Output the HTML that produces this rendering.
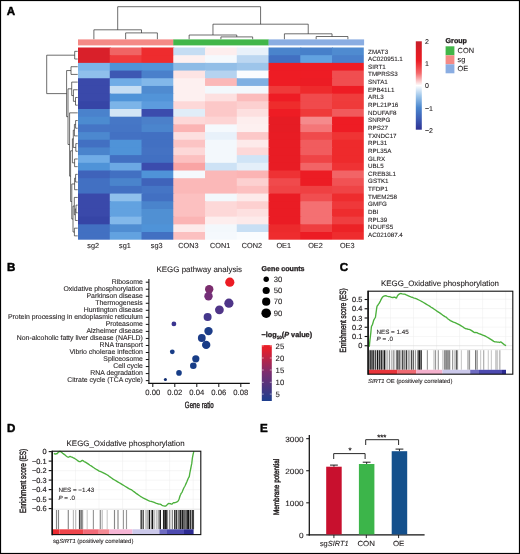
<!DOCTYPE html>
<html lang="en"><head><meta charset="utf-8"><title>Figure</title>
<style>
html,body{margin:0;padding:0;background:#fff;}
svg{display:block;font-family:'Liberation Sans', Arial, Helvetica, sans-serif;opacity:0.999;will-change:transform;text-rendering:geometricPrecision;}
text{stroke:#231f20;stroke-width:.1px;}
text[font-weight=bold]{stroke-width:.3px;}
text.cond{stroke-width:.42px;}
text.ast{stroke-width:.22px;}
text.tk{stroke-width:.18px;}
text.pl{stroke-width:.45px;fill:#000;stroke:#000;}
</style></head><body>
<svg width="520" height="554" viewBox="0 0 520 554">
<rect width="520" height="554" fill="#fff"/>
<g id="panelA">
<g>
<rect x="78.00" y="39.40" width="95.57" height="6.00" fill="#f48a86"/>
<rect x="173.27" y="39.40" width="95.57" height="6.00" fill="#42b649"/>
<rect x="268.53" y="39.40" width="95.57" height="6.00" fill="#8aade2"/>
</g>
<g>
<rect x="78.00" y="47.50" width="32.76" height="8.69" fill="#d9202a"/>
<rect x="109.76" y="47.50" width="32.76" height="8.69" fill="#f06464"/>
<rect x="141.51" y="47.50" width="32.76" height="8.69" fill="#ee2c2e"/>
<rect x="173.27" y="47.50" width="32.76" height="8.69" fill="#c5ddf3"/>
<rect x="205.02" y="47.50" width="32.76" height="8.69" fill="#fdeeee"/>
<rect x="236.78" y="47.50" width="32.76" height="8.69" fill="#e8f1fa"/>
<rect x="268.53" y="47.50" width="32.76" height="8.69" fill="#4a84cc"/>
<rect x="300.29" y="47.50" width="32.76" height="8.69" fill="#4780ca"/>
<rect x="332.04" y="47.50" width="32.76" height="8.69" fill="#4f8bd0"/>
<rect x="78.00" y="55.19" width="32.76" height="8.69" fill="#d9202a"/>
<rect x="109.76" y="55.19" width="32.76" height="8.69" fill="#f03a3c"/>
<rect x="141.51" y="55.19" width="32.76" height="8.69" fill="#ee2c2e"/>
<rect x="173.27" y="55.19" width="32.76" height="8.69" fill="#fdf0f0"/>
<rect x="205.02" y="55.19" width="32.76" height="8.69" fill="#f5f9fd"/>
<rect x="236.78" y="55.19" width="32.76" height="8.69" fill="#bcd7f1"/>
<rect x="268.53" y="55.19" width="32.76" height="8.69" fill="#4270c2"/>
<rect x="300.29" y="55.19" width="32.76" height="8.69" fill="#62a2e0"/>
<rect x="332.04" y="55.19" width="32.76" height="8.69" fill="#4a80cb"/>
<rect x="78.00" y="62.88" width="32.76" height="8.69" fill="#7cb4e8"/>
<rect x="109.76" y="62.88" width="32.76" height="8.69" fill="#4f93d8"/>
<rect x="141.51" y="62.88" width="32.76" height="8.69" fill="#5294d8"/>
<rect x="173.27" y="62.88" width="32.76" height="8.69" fill="#8dbbe6"/>
<rect x="205.02" y="62.88" width="32.76" height="8.69" fill="#92bee7"/>
<rect x="236.78" y="62.88" width="32.76" height="8.69" fill="#9dc5ea"/>
<rect x="268.53" y="62.88" width="32.76" height="8.69" fill="#ee1c24"/>
<rect x="300.29" y="62.88" width="32.76" height="8.69" fill="#ee1c24"/>
<rect x="332.04" y="62.88" width="32.76" height="8.69" fill="#ee1c24"/>
<rect x="78.00" y="70.56" width="32.76" height="8.69" fill="#8fc0ec"/>
<rect x="109.76" y="70.56" width="32.76" height="8.69" fill="#3d58b3"/>
<rect x="141.51" y="70.56" width="32.76" height="8.69" fill="#4a80cb"/>
<rect x="173.27" y="70.56" width="32.76" height="8.69" fill="#fde4e4"/>
<rect x="205.02" y="70.56" width="32.76" height="8.69" fill="#b5d3f0"/>
<rect x="236.78" y="70.56" width="32.76" height="8.69" fill="#fafcfe"/>
<rect x="268.53" y="70.56" width="32.76" height="8.69" fill="#ee1c24"/>
<rect x="300.29" y="70.56" width="32.76" height="8.69" fill="#ee1c24"/>
<rect x="332.04" y="70.56" width="32.76" height="8.69" fill="#f04e50"/>
<rect x="78.00" y="78.25" width="32.76" height="8.69" fill="#3a49aa"/>
<rect x="109.76" y="78.25" width="32.76" height="8.69" fill="#70ace6"/>
<rect x="141.51" y="78.25" width="32.76" height="8.69" fill="#82b8ea"/>
<rect x="173.27" y="78.25" width="32.76" height="8.69" fill="#fdf0f0"/>
<rect x="205.02" y="78.25" width="32.76" height="8.69" fill="#fbb8b8"/>
<rect x="236.78" y="78.25" width="32.76" height="8.69" fill="#7fb0e2"/>
<rect x="268.53" y="78.25" width="32.76" height="8.69" fill="#ee1c24"/>
<rect x="300.29" y="78.25" width="32.76" height="8.69" fill="#ec1c24"/>
<rect x="332.04" y="78.25" width="32.76" height="8.69" fill="#f04e50"/>
<rect x="78.00" y="85.94" width="32.76" height="8.69" fill="#3a49aa"/>
<rect x="109.76" y="85.94" width="32.76" height="8.69" fill="#c5ddf3"/>
<rect x="141.51" y="85.94" width="32.76" height="8.69" fill="#4f8bd0"/>
<rect x="173.27" y="85.94" width="32.76" height="8.69" fill="#fdf0f0"/>
<rect x="205.02" y="85.94" width="32.76" height="8.69" fill="#f3f8fc"/>
<rect x="236.78" y="85.94" width="32.76" height="8.69" fill="#f3f8fc"/>
<rect x="268.53" y="85.94" width="32.76" height="8.69" fill="#ef3a3a"/>
<rect x="300.29" y="85.94" width="32.76" height="8.69" fill="#ee2a2c"/>
<rect x="332.04" y="85.94" width="32.76" height="8.69" fill="#ee1c24"/>
<rect x="78.00" y="93.63" width="32.76" height="8.69" fill="#3a49aa"/>
<rect x="109.76" y="93.63" width="32.76" height="8.69" fill="#4f93d8"/>
<rect x="141.51" y="93.63" width="32.76" height="8.69" fill="#5294d8"/>
<rect x="173.27" y="93.63" width="32.76" height="8.69" fill="#fdf0f0"/>
<rect x="205.02" y="93.63" width="32.76" height="8.69" fill="#fde0e0"/>
<rect x="236.78" y="93.63" width="32.76" height="8.69" fill="#fbbcbc"/>
<rect x="268.53" y="93.63" width="32.76" height="8.69" fill="#ee1c24"/>
<rect x="300.29" y="93.63" width="32.76" height="8.69" fill="#f04a4c"/>
<rect x="332.04" y="93.63" width="32.76" height="8.69" fill="#ef3c3c"/>
<rect x="78.00" y="101.32" width="32.76" height="8.69" fill="#3645a6"/>
<rect x="109.76" y="101.32" width="32.76" height="8.69" fill="#7cb4e8"/>
<rect x="141.51" y="101.32" width="32.76" height="8.69" fill="#5c9cde"/>
<rect x="173.27" y="101.32" width="32.76" height="8.69" fill="#fdd8d8"/>
<rect x="205.02" y="101.32" width="32.76" height="8.69" fill="#fcc8c8"/>
<rect x="236.78" y="101.32" width="32.76" height="8.69" fill="#fcd0d0"/>
<rect x="268.53" y="101.32" width="32.76" height="8.69" fill="#ee2c2c"/>
<rect x="300.29" y="101.32" width="32.76" height="8.69" fill="#f04a4c"/>
<rect x="332.04" y="101.32" width="32.76" height="8.69" fill="#ef3a3a"/>
<rect x="78.00" y="109.00" width="32.76" height="8.69" fill="#4a82cc"/>
<rect x="109.76" y="109.00" width="32.76" height="8.69" fill="#d3e5f5"/>
<rect x="141.51" y="109.00" width="32.76" height="8.69" fill="#3b4cad"/>
<rect x="173.27" y="109.00" width="32.76" height="8.69" fill="#e0edf8"/>
<rect x="205.02" y="109.00" width="32.76" height="8.69" fill="#fcc8c8"/>
<rect x="236.78" y="109.00" width="32.76" height="8.69" fill="#fde0e0"/>
<rect x="268.53" y="109.00" width="32.76" height="8.69" fill="#ee1c24"/>
<rect x="300.29" y="109.00" width="32.76" height="8.69" fill="#ef3a3a"/>
<rect x="332.04" y="109.00" width="32.76" height="8.69" fill="#f15a5c"/>
<rect x="78.00" y="116.69" width="32.76" height="8.69" fill="#4c8bd0"/>
<rect x="109.76" y="116.69" width="32.76" height="8.69" fill="#4677c6"/>
<rect x="141.51" y="116.69" width="32.76" height="8.69" fill="#4b80ca"/>
<rect x="173.27" y="116.69" width="32.76" height="8.69" fill="#fdd8d8"/>
<rect x="205.02" y="116.69" width="32.76" height="8.69" fill="#fdd4d4"/>
<rect x="236.78" y="116.69" width="32.76" height="8.69" fill="#fdeeee"/>
<rect x="268.53" y="116.69" width="32.76" height="8.69" fill="#e61c24"/>
<rect x="300.29" y="116.69" width="32.76" height="8.69" fill="#f58a8c"/>
<rect x="332.04" y="116.69" width="32.76" height="8.69" fill="#ee1c24"/>
<rect x="78.00" y="124.38" width="32.76" height="8.69" fill="#4575c5"/>
<rect x="109.76" y="124.38" width="32.76" height="8.69" fill="#4575c5"/>
<rect x="141.51" y="124.38" width="32.76" height="8.69" fill="#4b85cd"/>
<rect x="173.27" y="124.38" width="32.76" height="8.69" fill="#fbb4b4"/>
<rect x="205.02" y="124.38" width="32.76" height="8.69" fill="#f5f9fd"/>
<rect x="236.78" y="124.38" width="32.76" height="8.69" fill="#fdf0f0"/>
<rect x="268.53" y="124.38" width="32.76" height="8.69" fill="#e61c24"/>
<rect x="300.29" y="124.38" width="32.76" height="8.69" fill="#f47678"/>
<rect x="332.04" y="124.38" width="32.76" height="8.69" fill="#ee1c24"/>
<rect x="78.00" y="132.07" width="32.76" height="8.69" fill="#4c88cf"/>
<rect x="109.76" y="132.07" width="32.76" height="8.69" fill="#4371c3"/>
<rect x="141.51" y="132.07" width="32.76" height="8.69" fill="#4270c2"/>
<rect x="173.27" y="132.07" width="32.76" height="8.69" fill="#fde0e0"/>
<rect x="205.02" y="132.07" width="32.76" height="8.69" fill="#e8f1fa"/>
<rect x="236.78" y="132.07" width="32.76" height="8.69" fill="#fcc8c8"/>
<rect x="268.53" y="132.07" width="32.76" height="8.69" fill="#e81c24"/>
<rect x="300.29" y="132.07" width="32.76" height="8.69" fill="#f04a4c"/>
<rect x="332.04" y="132.07" width="32.76" height="8.69" fill="#ef3434"/>
<rect x="78.00" y="139.76" width="32.76" height="8.69" fill="#4270c2"/>
<rect x="109.76" y="139.76" width="32.76" height="8.69" fill="#4f93d8"/>
<rect x="141.51" y="139.76" width="32.76" height="8.69" fill="#4270c2"/>
<rect x="173.27" y="139.76" width="32.76" height="8.69" fill="#fcc4c4"/>
<rect x="205.02" y="139.76" width="32.76" height="8.69" fill="#f3f8fc"/>
<rect x="236.78" y="139.76" width="32.76" height="8.69" fill="#fdeaea"/>
<rect x="268.53" y="139.76" width="32.76" height="8.69" fill="#e81c24"/>
<rect x="300.29" y="139.76" width="32.76" height="8.69" fill="#f15c5e"/>
<rect x="332.04" y="139.76" width="32.76" height="8.69" fill="#ee2a2c"/>
<rect x="78.00" y="147.44" width="32.76" height="8.69" fill="#4a84cc"/>
<rect x="109.76" y="147.44" width="32.76" height="8.69" fill="#4f93d8"/>
<rect x="141.51" y="147.44" width="32.76" height="8.69" fill="#4472c3"/>
<rect x="173.27" y="147.44" width="32.76" height="8.69" fill="#fdd8d8"/>
<rect x="205.02" y="147.44" width="32.76" height="8.69" fill="#f3f8fc"/>
<rect x="236.78" y="147.44" width="32.76" height="8.69" fill="#fdd8d8"/>
<rect x="268.53" y="147.44" width="32.76" height="8.69" fill="#e81c24"/>
<rect x="300.29" y="147.44" width="32.76" height="8.69" fill="#f15c5e"/>
<rect x="332.04" y="147.44" width="32.76" height="8.69" fill="#ee2a2c"/>
<rect x="78.00" y="155.13" width="32.76" height="8.69" fill="#70ace6"/>
<rect x="109.76" y="155.13" width="32.76" height="8.69" fill="#4270c2"/>
<rect x="141.51" y="155.13" width="32.76" height="8.69" fill="#4270c2"/>
<rect x="173.27" y="155.13" width="32.76" height="8.69" fill="#fcc0c0"/>
<rect x="205.02" y="155.13" width="32.76" height="8.69" fill="#f3f8fc"/>
<rect x="236.78" y="155.13" width="32.76" height="8.69" fill="#d0e4f6"/>
<rect x="268.53" y="155.13" width="32.76" height="8.69" fill="#e81c24"/>
<rect x="300.29" y="155.13" width="32.76" height="8.69" fill="#ef4446"/>
<rect x="332.04" y="155.13" width="32.76" height="8.69" fill="#ee2a2c"/>
<rect x="78.00" y="162.82" width="32.76" height="8.69" fill="#4f93d8"/>
<rect x="109.76" y="162.82" width="32.76" height="8.69" fill="#6ca8e4"/>
<rect x="141.51" y="162.82" width="32.76" height="8.69" fill="#3b4cad"/>
<rect x="173.27" y="162.82" width="32.76" height="8.69" fill="#f9a4a4"/>
<rect x="205.02" y="162.82" width="32.76" height="8.69" fill="#cde2f5"/>
<rect x="236.78" y="162.82" width="32.76" height="8.69" fill="#e4eff9"/>
<rect x="268.53" y="162.82" width="32.76" height="8.69" fill="#e81c24"/>
<rect x="300.29" y="162.82" width="32.76" height="8.69" fill="#f26466"/>
<rect x="332.04" y="162.82" width="32.76" height="8.69" fill="#ef3234"/>
<rect x="78.00" y="170.51" width="32.76" height="8.69" fill="#3f63ba"/>
<rect x="109.76" y="170.51" width="32.76" height="8.69" fill="#4270c2"/>
<rect x="141.51" y="170.51" width="32.76" height="8.69" fill="#4f93d8"/>
<rect x="173.27" y="170.51" width="32.76" height="8.69" fill="#f5f9fd"/>
<rect x="205.02" y="170.51" width="32.76" height="8.69" fill="#fbb8b8"/>
<rect x="236.78" y="170.51" width="32.76" height="8.69" fill="#fbb4b4"/>
<rect x="268.53" y="170.51" width="32.76" height="8.69" fill="#ee3234"/>
<rect x="300.29" y="170.51" width="32.76" height="8.69" fill="#ec1c24"/>
<rect x="332.04" y="170.51" width="32.76" height="8.69" fill="#f26466"/>
<rect x="78.00" y="178.20" width="32.76" height="8.69" fill="#4270c2"/>
<rect x="109.76" y="178.20" width="32.76" height="8.69" fill="#4a84cc"/>
<rect x="141.51" y="178.20" width="32.76" height="8.69" fill="#3f63ba"/>
<rect x="173.27" y="178.20" width="32.76" height="8.69" fill="#fbb8b8"/>
<rect x="205.02" y="178.20" width="32.76" height="8.69" fill="#fbb8b8"/>
<rect x="236.78" y="178.20" width="32.76" height="8.69" fill="#fcd0d0"/>
<rect x="268.53" y="178.20" width="32.76" height="8.69" fill="#f04a4c"/>
<rect x="300.29" y="178.20" width="32.76" height="8.69" fill="#ec1c24"/>
<rect x="332.04" y="178.20" width="32.76" height="8.69" fill="#f15254"/>
<rect x="78.00" y="185.88" width="32.76" height="8.69" fill="#4270c2"/>
<rect x="109.76" y="185.88" width="32.76" height="8.69" fill="#4270c2"/>
<rect x="141.51" y="185.88" width="32.76" height="8.69" fill="#4575c5"/>
<rect x="173.27" y="185.88" width="32.76" height="8.69" fill="#fbb8b8"/>
<rect x="205.02" y="185.88" width="32.76" height="8.69" fill="#fbb8b8"/>
<rect x="236.78" y="185.88" width="32.76" height="8.69" fill="#fcc0c0"/>
<rect x="268.53" y="185.88" width="32.76" height="8.69" fill="#ef4446"/>
<rect x="300.29" y="185.88" width="32.76" height="8.69" fill="#ef4042"/>
<rect x="332.04" y="185.88" width="32.76" height="8.69" fill="#ef4446"/>
<rect x="78.00" y="193.57" width="32.76" height="8.69" fill="#3a49aa"/>
<rect x="109.76" y="193.57" width="32.76" height="8.69" fill="#8fc0ec"/>
<rect x="141.51" y="193.57" width="32.76" height="8.69" fill="#4270c2"/>
<rect x="173.27" y="193.57" width="32.76" height="8.69" fill="#fcc0c0"/>
<rect x="205.02" y="193.57" width="32.76" height="8.69" fill="#f3f8fc"/>
<rect x="236.78" y="193.57" width="32.76" height="8.69" fill="#fdeaea"/>
<rect x="268.53" y="193.57" width="32.76" height="8.69" fill="#ea1c24"/>
<rect x="300.29" y="193.57" width="32.76" height="8.69" fill="#f04e50"/>
<rect x="332.04" y="193.57" width="32.76" height="8.69" fill="#ee2c2e"/>
<rect x="78.00" y="201.26" width="32.76" height="8.69" fill="#3a49aa"/>
<rect x="109.76" y="201.26" width="32.76" height="8.69" fill="#62a2e0"/>
<rect x="141.51" y="201.26" width="32.76" height="8.69" fill="#4a84cc"/>
<rect x="173.27" y="201.26" width="32.76" height="8.69" fill="#fcc0c0"/>
<rect x="205.02" y="201.26" width="32.76" height="8.69" fill="#fdd8d8"/>
<rect x="236.78" y="201.26" width="32.76" height="8.69" fill="#fdd0d0"/>
<rect x="268.53" y="201.26" width="32.76" height="8.69" fill="#ea1c24"/>
<rect x="300.29" y="201.26" width="32.76" height="8.69" fill="#f47072"/>
<rect x="332.04" y="201.26" width="32.76" height="8.69" fill="#ef383a"/>
<rect x="78.00" y="208.95" width="32.76" height="8.69" fill="#3a49aa"/>
<rect x="109.76" y="208.95" width="32.76" height="8.69" fill="#62a2e0"/>
<rect x="141.51" y="208.95" width="32.76" height="8.69" fill="#5090d3"/>
<rect x="173.27" y="208.95" width="32.76" height="8.69" fill="#fcc0c0"/>
<rect x="205.02" y="208.95" width="32.76" height="8.69" fill="#fdd8d8"/>
<rect x="236.78" y="208.95" width="32.76" height="8.69" fill="#fde0e0"/>
<rect x="268.53" y="208.95" width="32.76" height="8.69" fill="#ea1c24"/>
<rect x="300.29" y="208.95" width="32.76" height="8.69" fill="#f47072"/>
<rect x="332.04" y="208.95" width="32.76" height="8.69" fill="#ee2c2e"/>
<rect x="78.00" y="216.64" width="32.76" height="8.69" fill="#3645a6"/>
<rect x="109.76" y="216.64" width="32.76" height="8.69" fill="#82b8ea"/>
<rect x="141.51" y="216.64" width="32.76" height="8.69" fill="#5090d3"/>
<rect x="173.27" y="216.64" width="32.76" height="8.69" fill="#fbb4b4"/>
<rect x="205.02" y="216.64" width="32.76" height="8.69" fill="#fdeeee"/>
<rect x="236.78" y="216.64" width="32.76" height="8.69" fill="#fdeaea"/>
<rect x="268.53" y="216.64" width="32.76" height="8.69" fill="#ea1c24"/>
<rect x="300.29" y="216.64" width="32.76" height="8.69" fill="#f47072"/>
<rect x="332.04" y="216.64" width="32.76" height="8.69" fill="#ef3e40"/>
<rect x="78.00" y="224.32" width="32.76" height="8.69" fill="#4270c2"/>
<rect x="109.76" y="224.32" width="32.76" height="8.69" fill="#4f8dd2"/>
<rect x="141.51" y="224.32" width="32.76" height="8.69" fill="#4f93d8"/>
<rect x="173.27" y="224.32" width="32.76" height="8.69" fill="#fdeaea"/>
<rect x="205.02" y="224.32" width="32.76" height="8.69" fill="#f3f8fc"/>
<rect x="236.78" y="224.32" width="32.76" height="8.69" fill="#c8dff4"/>
<rect x="268.53" y="224.32" width="32.76" height="8.69" fill="#ec2a2c"/>
<rect x="300.29" y="224.32" width="32.76" height="8.69" fill="#ef3e40"/>
<rect x="332.04" y="224.32" width="32.76" height="8.69" fill="#ec2226"/>
<rect x="78.00" y="232.01" width="32.76" height="8.69" fill="#4270c2"/>
<rect x="109.76" y="232.01" width="32.76" height="8.69" fill="#62a2e0"/>
<rect x="141.51" y="232.01" width="32.76" height="8.69" fill="#4270c2"/>
<rect x="173.27" y="232.01" width="32.76" height="8.69" fill="#fcc0c0"/>
<rect x="205.02" y="232.01" width="32.76" height="8.69" fill="#f5f9fd"/>
<rect x="236.78" y="232.01" width="32.76" height="8.69" fill="#fafcfe"/>
<rect x="268.53" y="232.01" width="32.76" height="8.69" fill="#ee2c2e"/>
<rect x="300.29" y="232.01" width="32.76" height="8.69" fill="#ec1c24"/>
<rect x="332.04" y="232.01" width="32.76" height="8.69" fill="#ee2c2e"/>
</g>
<rect x="363.80" y="46.50" width="3.00" height="195.20" fill="#fff"/>
<rect x="78.00" y="239.70" width="287.80" height="1.50" fill="#fff"/>
<text transform="translate(368.10,51.30)" y="2.24" font-size="6.25" text-anchor="start" fill="#231f20">ZMAT3</text>
<text transform="translate(368.10,58.94)" y="2.24" font-size="6.25" text-anchor="start" fill="#231f20">AC020951.1</text>
<text transform="translate(368.10,66.58)" y="2.24" font-size="6.25" text-anchor="start" fill="#231f20">SIRT1</text>
<text transform="translate(368.10,74.22)" y="2.24" font-size="6.25" text-anchor="start" fill="#231f20">TMPRSS3</text>
<text transform="translate(368.10,81.86)" y="2.24" font-size="6.25" text-anchor="start" fill="#231f20">SNTA1</text>
<text transform="translate(368.10,89.50)" y="2.24" font-size="6.25" text-anchor="start" fill="#231f20">EPB41L1</text>
<text transform="translate(368.10,97.14)" y="2.24" font-size="6.25" text-anchor="start" fill="#231f20">ARL3</text>
<text transform="translate(368.10,104.78)" y="2.24" font-size="6.25" text-anchor="start" fill="#231f20">RPL21P16</text>
<text transform="translate(368.10,112.42)" y="2.24" font-size="6.25" text-anchor="start" fill="#231f20">NDUFAF8</text>
<text transform="translate(368.10,120.06)" y="2.24" font-size="6.25" text-anchor="start" fill="#231f20">SNRPG</text>
<text transform="translate(368.10,127.70)" y="2.24" font-size="6.25" text-anchor="start" fill="#231f20">RPS27</text>
<text transform="translate(368.10,135.34)" y="2.24" font-size="6.25" text-anchor="start" fill="#231f20">TXNDC17</text>
<text transform="translate(368.10,142.98)" y="2.24" font-size="6.25" text-anchor="start" fill="#231f20">RPL31</text>
<text transform="translate(368.10,150.62)" y="2.24" font-size="6.25" text-anchor="start" fill="#231f20">RPL35A</text>
<text transform="translate(368.10,158.26)" y="2.24" font-size="6.25" text-anchor="start" fill="#231f20">GLRX</text>
<text transform="translate(368.10,165.90)" y="2.24" font-size="6.25" text-anchor="start" fill="#231f20">UBL5</text>
<text transform="translate(368.10,173.54)" y="2.24" font-size="6.25" text-anchor="start" fill="#231f20">CREB3L1</text>
<text transform="translate(368.10,181.18)" y="2.24" font-size="6.25" text-anchor="start" fill="#231f20">GSTK1</text>
<text transform="translate(368.10,188.82)" y="2.24" font-size="6.25" text-anchor="start" fill="#231f20">TFDP1</text>
<text transform="translate(368.10,196.46)" y="2.24" font-size="6.25" text-anchor="start" fill="#231f20">TMEM258</text>
<text transform="translate(368.10,204.10)" y="2.24" font-size="6.25" text-anchor="start" fill="#231f20">GMFG</text>
<text transform="translate(368.10,211.74)" y="2.24" font-size="6.25" text-anchor="start" fill="#231f20">DBI</text>
<text transform="translate(368.10,219.38)" y="2.24" font-size="6.25" text-anchor="start" fill="#231f20">RPL39</text>
<text transform="translate(368.10,227.02)" y="2.24" font-size="6.25" text-anchor="start" fill="#231f20">NDUFS5</text>
<text transform="translate(368.10,234.66)" y="2.24" font-size="6.25" text-anchor="start" fill="#231f20">AC021087.4</text>
<text transform="translate(93.18,245.20)" y="2.61" font-size="7.3" text-anchor="middle" fill="#231f20">sg2</text>
<text transform="translate(124.93,245.20)" y="2.61" font-size="7.3" text-anchor="middle" fill="#231f20">sg1</text>
<text transform="translate(156.69,245.20)" y="2.61" font-size="7.3" text-anchor="middle" fill="#231f20">sg3</text>
<text transform="translate(188.44,245.20)" y="2.61" font-size="7.3" text-anchor="middle" fill="#231f20">CON3</text>
<text transform="translate(220.20,245.20)" y="2.61" font-size="7.3" text-anchor="middle" fill="#231f20">CON1</text>
<text transform="translate(251.96,245.20)" y="2.61" font-size="7.3" text-anchor="middle" fill="#231f20">CON2</text>
<text transform="translate(283.71,245.20)" y="2.61" font-size="7.3" text-anchor="middle" fill="#231f20">OE1</text>
<text transform="translate(315.47,245.20)" y="2.61" font-size="7.3" text-anchor="middle" fill="#231f20">OE2</text>
<text transform="translate(347.22,245.20)" y="2.61" font-size="7.3" text-anchor="middle" fill="#231f20">OE3</text>
<path d="M125.63 39.20V32.90H157.39V39.20" fill="none" stroke="#2a2a2a" stroke-width="0.68" stroke-linejoin="miter"/>
<path d="M93.88 39.20V29.80H141.51V32.90" fill="none" stroke="#2a2a2a" stroke-width="0.68" stroke-linejoin="miter"/>
<path d="M220.90 39.20V36.90H252.66V39.20" fill="none" stroke="#2a2a2a" stroke-width="0.68" stroke-linejoin="miter"/>
<path d="M189.14 39.20V35.00H236.78V36.90" fill="none" stroke="#2a2a2a" stroke-width="0.68" stroke-linejoin="miter"/>
<path d="M316.17 39.20V36.50H347.92V39.20" fill="none" stroke="#2a2a2a" stroke-width="0.68" stroke-linejoin="miter"/>
<path d="M284.41 39.20V33.80H332.04V36.50" fill="none" stroke="#2a2a2a" stroke-width="0.68" stroke-linejoin="miter"/>
<path d="M212.96 35.00V24.20H308.23V33.80" fill="none" stroke="#2a2a2a" stroke-width="0.68" stroke-linejoin="miter"/>
<path d="M117.69 29.80V6.70H260.59V24.20" fill="none" stroke="#2a2a2a" stroke-width="0.68" stroke-linejoin="miter"/>
<path d="M77.70 51.34H74.70V59.03H77.70" fill="none" stroke="#2a2a2a" stroke-width="0.68" stroke-linejoin="miter"/>
<path d="M77.70 66.72H71.00V74.41H77.70" fill="none" stroke="#2a2a2a" stroke-width="0.68" stroke-linejoin="miter"/>
<path d="M77.70 97.47H75.50V105.16H77.70" fill="none" stroke="#2a2a2a" stroke-width="0.68" stroke-linejoin="miter"/>
<path d="M77.70 89.78H73.40V101.32H75.50" fill="none" stroke="#2a2a2a" stroke-width="0.68" stroke-linejoin="miter"/>
<path d="M77.70 82.10H71.70V95.55H73.40" fill="none" stroke="#2a2a2a" stroke-width="0.68" stroke-linejoin="miter"/>
<path d="M77.70 120.54H75.60V128.22H77.70" fill="none" stroke="#2a2a2a" stroke-width="0.68" stroke-linejoin="miter"/>
<path d="M75.60 124.38H74.40V135.91H77.70" fill="none" stroke="#2a2a2a" stroke-width="0.68" stroke-linejoin="miter"/>
<path d="M77.70 143.60H75.80V151.29H77.70" fill="none" stroke="#2a2a2a" stroke-width="0.68" stroke-linejoin="miter"/>
<path d="M74.40 130.15H73.30V147.44H75.80" fill="none" stroke="#2a2a2a" stroke-width="0.68" stroke-linejoin="miter"/>
<path d="M77.70 158.98H74.60V166.66H77.70" fill="none" stroke="#2a2a2a" stroke-width="0.68" stroke-linejoin="miter"/>
<path d="M73.30 138.80H72.40V162.82H74.60" fill="none" stroke="#2a2a2a" stroke-width="0.68" stroke-linejoin="miter"/>
<path d="M77.70 174.35H75.60V182.04H77.70" fill="none" stroke="#2a2a2a" stroke-width="0.68" stroke-linejoin="miter"/>
<path d="M75.60 178.20H74.60V189.73H77.70" fill="none" stroke="#2a2a2a" stroke-width="0.68" stroke-linejoin="miter"/>
<path d="M77.70 205.10H76.00V212.79H77.70" fill="none" stroke="#2a2a2a" stroke-width="0.68" stroke-linejoin="miter"/>
<path d="M76.00 208.95H75.30V220.48H77.70" fill="none" stroke="#2a2a2a" stroke-width="0.68" stroke-linejoin="miter"/>
<path d="M77.70 197.42H74.30V214.71H75.30" fill="none" stroke="#2a2a2a" stroke-width="0.68" stroke-linejoin="miter"/>
<path d="M77.70 228.17H74.40V235.86H77.70" fill="none" stroke="#2a2a2a" stroke-width="0.68" stroke-linejoin="miter"/>
<path d="M74.30 206.06H73.00V232.01H74.40" fill="none" stroke="#2a2a2a" stroke-width="0.68" stroke-linejoin="miter"/>
<path d="M74.60 183.96H71.80V219.04H73.00" fill="none" stroke="#2a2a2a" stroke-width="0.68" stroke-linejoin="miter"/>
<path d="M72.40 150.81H70.60V201.50H71.80" fill="none" stroke="#2a2a2a" stroke-width="0.68" stroke-linejoin="miter"/>
<path d="M77.70 112.85H69.60V176.15H70.60" fill="none" stroke="#2a2a2a" stroke-width="0.68" stroke-linejoin="miter"/>
<path d="M71.70 88.82H68.00V144.50H69.60" fill="none" stroke="#2a2a2a" stroke-width="0.68" stroke-linejoin="miter"/>
<path d="M71.00 70.56H66.60V116.66H68.00" fill="none" stroke="#2a2a2a" stroke-width="0.68" stroke-linejoin="miter"/>
<path d="M74.70 55.19H46.70V93.61H66.60" fill="none" stroke="#2a2a2a" stroke-width="0.68" stroke-linejoin="miter"/>
<defs><linearGradient id="hm" x1="0" y1="0" x2="0" y2="1"><stop offset="0" stop-color="#c4202b"/><stop offset="0.10" stop-color="#dc1c24"/><stop offset="0.22" stop-color="#ec1c24"/><stop offset="0.36" stop-color="#f4686a"/><stop offset="0.5" stop-color="#ffffff"/><stop offset="0.62" stop-color="#9cc5ea"/><stop offset="0.75" stop-color="#4a86ce"/><stop offset="0.88" stop-color="#3c5cb4"/><stop offset="1" stop-color="#2e3192"/></linearGradient></defs>
<rect x="415.80" y="41.30" width="6.00" height="88.40" fill="url(#hm)"/>
<text transform="translate(425.00,41.10)" y="2.51" font-size="7.0" text-anchor="start" fill="#231f20">2</text>
<text transform="translate(425.00,63.40)" y="2.51" font-size="7.0" text-anchor="start" fill="#231f20">1</text>
<text transform="translate(425.00,85.70)" y="2.51" font-size="7.0" text-anchor="start" fill="#231f20">0</text>
<text transform="translate(425.00,108.00)" y="2.51" font-size="7.0" text-anchor="start" fill="#231f20">−1</text>
<text transform="translate(425.00,130.30)" y="2.51" font-size="7.0" text-anchor="start" fill="#231f20">−2</text>
<text transform="translate(445.60,40.40)" y="2.54" font-size="7.1" text-anchor="start" fill="#231f20" font-weight="bold">Group</text>
<rect x="445.60" y="46.30" width="8.80" height="9.00" fill="#42b649"/>
<text transform="translate(457.60,50.80)" y="2.65" font-size="7.4" text-anchor="start" fill="#231f20">CON</text>
<rect x="445.60" y="55.30" width="8.80" height="9.00" fill="#f48a86"/>
<text transform="translate(457.60,59.80)" y="2.65" font-size="7.4" text-anchor="start" fill="#231f20">sg</text>
<rect x="445.60" y="64.30" width="8.80" height="9.00" fill="#8aade2"/>
<text transform="translate(457.60,68.80)" y="2.65" font-size="7.4" text-anchor="start" fill="#231f20">OE</text>
</g>
<g id="panelB">
<text transform="translate(156.50,268.90)" y="2.85" font-size="7.95" text-anchor="start" fill="#231f20">KEGG pathway analysis</text>
<text transform="translate(142.80,281.80)" y="2.47" font-size="6.9" text-anchor="end" fill="#231f20">Ribosome</text>
<line x1="145.80" y1="282.20" x2="148.90" y2="282.20" stroke="#111" stroke-width="1.0" stroke-linecap="butt"/>
<text transform="translate(142.80,288.78)" y="2.47" font-size="6.9" text-anchor="end" fill="#231f20">Oxidative phosphorylation</text>
<line x1="145.80" y1="289.23" x2="148.90" y2="289.23" stroke="#111" stroke-width="1.0" stroke-linecap="butt"/>
<text transform="translate(142.80,295.76)" y="2.47" font-size="6.9" text-anchor="end" fill="#231f20">Parkinson disease</text>
<line x1="145.80" y1="296.26" x2="148.90" y2="296.26" stroke="#111" stroke-width="1.0" stroke-linecap="butt"/>
<text transform="translate(142.80,302.74)" y="2.47" font-size="6.9" text-anchor="end" fill="#231f20">Thermogenesis</text>
<line x1="145.80" y1="303.29" x2="148.90" y2="303.29" stroke="#111" stroke-width="1.0" stroke-linecap="butt"/>
<text transform="translate(142.80,309.72)" y="2.47" font-size="6.9" text-anchor="end" fill="#231f20">Huntington disease</text>
<line x1="145.80" y1="310.32" x2="148.90" y2="310.32" stroke="#111" stroke-width="1.0" stroke-linecap="butt"/>
<text transform="translate(142.80,316.70)" y="2.47" font-size="6.9" text-anchor="end" fill="#231f20">Protein processing in endoplasmic reticulum</text>
<line x1="145.80" y1="317.35" x2="148.90" y2="317.35" stroke="#111" stroke-width="1.0" stroke-linecap="butt"/>
<text transform="translate(142.80,323.68)" y="2.47" font-size="6.9" text-anchor="end" fill="#231f20">Proteasome</text>
<line x1="145.80" y1="324.38" x2="148.90" y2="324.38" stroke="#111" stroke-width="1.0" stroke-linecap="butt"/>
<text transform="translate(142.80,330.66)" y="2.47" font-size="6.9" text-anchor="end" fill="#231f20">Alzheimer disease</text>
<line x1="145.80" y1="331.41" x2="148.90" y2="331.41" stroke="#111" stroke-width="1.0" stroke-linecap="butt"/>
<text transform="translate(142.80,337.64)" y="2.47" font-size="6.9" text-anchor="end" fill="#231f20">Non-alcoholic fatty liver disease (NAFLD)</text>
<line x1="145.80" y1="338.44" x2="148.90" y2="338.44" stroke="#111" stroke-width="1.0" stroke-linecap="butt"/>
<text transform="translate(142.80,344.62)" y="2.47" font-size="6.9" text-anchor="end" fill="#231f20">RNA transport</text>
<line x1="145.80" y1="345.47" x2="148.90" y2="345.47" stroke="#111" stroke-width="1.0" stroke-linecap="butt"/>
<text transform="translate(142.80,351.60)" y="2.47" font-size="6.9" text-anchor="end" fill="#231f20">Vibrio cholerae infection</text>
<line x1="145.80" y1="352.50" x2="148.90" y2="352.50" stroke="#111" stroke-width="1.0" stroke-linecap="butt"/>
<text transform="translate(142.80,358.58)" y="2.47" font-size="6.9" text-anchor="end" fill="#231f20">Spliceosome</text>
<line x1="145.80" y1="359.53" x2="148.90" y2="359.53" stroke="#111" stroke-width="1.0" stroke-linecap="butt"/>
<text transform="translate(142.80,365.56)" y="2.47" font-size="6.9" text-anchor="end" fill="#231f20">Cell cycle</text>
<line x1="145.80" y1="366.56" x2="148.90" y2="366.56" stroke="#111" stroke-width="1.0" stroke-linecap="butt"/>
<text transform="translate(142.80,372.54)" y="2.47" font-size="6.9" text-anchor="end" fill="#231f20">RNA degradation</text>
<line x1="145.80" y1="373.59" x2="148.90" y2="373.59" stroke="#111" stroke-width="1.0" stroke-linecap="butt"/>
<text transform="translate(142.80,379.52)" y="2.47" font-size="6.9" text-anchor="end" fill="#231f20">Citrate cycle (TCA cycle)</text>
<line x1="145.80" y1="380.62" x2="148.90" y2="380.62" stroke="#111" stroke-width="1.0" stroke-linecap="butt"/>
<line x1="148.90" y1="279.00" x2="148.90" y2="383.90" stroke="#111" stroke-width="1.1" stroke-linecap="butt"/>
<line x1="148.40" y1="383.40" x2="249.80" y2="383.40" stroke="#111" stroke-width="1.1" stroke-linecap="butt"/>
<line x1="152.80" y1="383.40" x2="152.80" y2="387.00" stroke="#111" stroke-width="1.0" stroke-linecap="butt"/>
<text transform="translate(152.80,392.40)" y="2.76" font-size="7.7" text-anchor="middle" fill="#231f20">0.00</text>
<line x1="174.80" y1="383.40" x2="174.80" y2="387.00" stroke="#111" stroke-width="1.0" stroke-linecap="butt"/>
<text transform="translate(174.80,392.40)" y="2.76" font-size="7.7" text-anchor="middle" fill="#231f20">0.02</text>
<line x1="196.80" y1="383.40" x2="196.80" y2="387.00" stroke="#111" stroke-width="1.0" stroke-linecap="butt"/>
<text transform="translate(196.80,392.40)" y="2.76" font-size="7.7" text-anchor="middle" fill="#231f20">0.04</text>
<line x1="218.80" y1="383.40" x2="218.80" y2="387.00" stroke="#111" stroke-width="1.0" stroke-linecap="butt"/>
<text transform="translate(218.80,392.40)" y="2.76" font-size="7.7" text-anchor="middle" fill="#231f20">0.06</text>
<line x1="240.80" y1="383.40" x2="240.80" y2="387.00" stroke="#111" stroke-width="1.0" stroke-linecap="butt"/>
<text transform="translate(240.80,392.40)" y="2.76" font-size="7.7" text-anchor="middle" fill="#231f20">0.08</text>
<text transform="translate(199.30,404.80) scale(0.680,1)" y="3.26" font-size="9.1" text-anchor="middle" fill="#231f20" class="cond">Gene ratio</text>
<circle cx="229.8" cy="282.2" r="4.6" fill="#ec1c24"/>
<circle cx="209.2" cy="289.3" r="4.2" fill="#7b2d6e"/>
<circle cx="208.5" cy="296.2" r="4.2" fill="#742f78"/>
<circle cx="228.9" cy="303.2" r="4.6" fill="#4e3588"/>
<circle cx="219.4" cy="309.8" r="4.4" fill="#503588"/>
<circle cx="207.6" cy="317.0" r="4.0" fill="#45378c"/>
<circle cx="173.9" cy="323.9" r="2.4" fill="#3a3590"/>
<circle cx="208.5" cy="331.1" r="4.2" fill="#1c3c88"/>
<circle cx="201.8" cy="338.0" r="3.9" fill="#1c3c88"/>
<circle cx="206.2" cy="344.9" r="4.2" fill="#193c87"/>
<circle cx="172.3" cy="351.8" r="2.4" fill="#183d87"/>
<circle cx="195.8" cy="358.8" r="3.6" fill="#183d87"/>
<circle cx="193.3" cy="365.7" r="3.3" fill="#183d87"/>
<circle cx="179.0" cy="372.9" r="2.8" fill="#173d87"/>
<circle cx="165.4" cy="379.5" r="1.55" fill="#102c70"/>
<text transform="translate(261.60,268.50)" y="2.54" font-size="7.1" text-anchor="start" fill="#231f20" font-weight="bold">Gene counts</text>
<circle cx="266.2" cy="279.3" r="2.7" fill="#000"/>
<text transform="translate(273.80,279.30)" y="2.76" font-size="7.7" text-anchor="start" fill="#231f20">30</text>
<circle cx="266.2" cy="290.5" r="3.6" fill="#000"/>
<text transform="translate(273.80,290.50)" y="2.76" font-size="7.7" text-anchor="start" fill="#231f20">50</text>
<circle cx="266.2" cy="301.7" r="4.1" fill="#000"/>
<text transform="translate(273.80,301.70)" y="2.76" font-size="7.7" text-anchor="start" fill="#231f20">70</text>
<circle cx="266.2" cy="313.2" r="4.8" fill="#000"/>
<text transform="translate(273.80,313.20)" y="2.76" font-size="7.7" text-anchor="start" fill="#231f20">90</text>
<text transform="translate(261.60,334.70)" y="2.60" font-size="7.25" text-anchor="start" fill="#231f20" font-weight="bold">−log<tspan font-size="4.6" dy="1.3">10</tspan><tspan dy="-1.3">(</tspan><tspan font-style="italic">P</tspan> value)</text>
<defs><linearGradient id="pv" x1="0" y1="0" x2="0" y2="1"><stop offset="0" stop-color="#ec1c24"/><stop offset="0.08" stop-color="#e21f2d"/><stop offset="0.5" stop-color="#7a2d70"/><stop offset="1" stop-color="#1e3f8e"/></linearGradient></defs>
<rect x="261.80" y="345.10" width="10.00" height="55.90" fill="url(#pv)"/>
<text transform="translate(275.60,345.90)" y="2.76" font-size="7.7" text-anchor="start" fill="#231f20">25</text>
<line x1="261.80" y1="345.90" x2="263.80" y2="345.90" stroke="#fff" stroke-width="0.5" stroke-linecap="butt"/>
<line x1="269.80" y1="345.90" x2="271.80" y2="345.90" stroke="#fff" stroke-width="0.5" stroke-linecap="butt"/>
<text transform="translate(275.60,358.00)" y="2.76" font-size="7.7" text-anchor="start" fill="#231f20">20</text>
<line x1="261.80" y1="358.00" x2="263.80" y2="358.00" stroke="#fff" stroke-width="0.5" stroke-linecap="butt"/>
<line x1="269.80" y1="358.00" x2="271.80" y2="358.00" stroke="#fff" stroke-width="0.5" stroke-linecap="butt"/>
<text transform="translate(275.60,370.00)" y="2.76" font-size="7.7" text-anchor="start" fill="#231f20">15</text>
<line x1="261.80" y1="370.00" x2="263.80" y2="370.00" stroke="#fff" stroke-width="0.5" stroke-linecap="butt"/>
<line x1="269.80" y1="370.00" x2="271.80" y2="370.00" stroke="#fff" stroke-width="0.5" stroke-linecap="butt"/>
<text transform="translate(275.60,382.30)" y="2.76" font-size="7.7" text-anchor="start" fill="#231f20">10</text>
<line x1="261.80" y1="382.30" x2="263.80" y2="382.30" stroke="#fff" stroke-width="0.5" stroke-linecap="butt"/>
<line x1="269.80" y1="382.30" x2="271.80" y2="382.30" stroke="#fff" stroke-width="0.5" stroke-linecap="butt"/>
<text transform="translate(275.60,394.10)" y="2.76" font-size="7.7" text-anchor="start" fill="#231f20">5</text>
<line x1="261.80" y1="394.10" x2="263.80" y2="394.10" stroke="#fff" stroke-width="0.5" stroke-linecap="butt"/>
<line x1="269.80" y1="394.10" x2="271.80" y2="394.10" stroke="#fff" stroke-width="0.5" stroke-linecap="butt"/>
</g>
<g id="panelC">
<text transform="translate(381.00,282.70)" y="2.83" font-size="7.9" text-anchor="start" fill="#231f20">KEGG_Oxidative phosphorylation</text>
<line x1="390.45" y1="291.20" x2="390.45" y2="349.40" stroke="#ececec" stroke-width="0.5" stroke-linecap="butt"/>
<line x1="413.50" y1="291.20" x2="413.50" y2="349.40" stroke="#ececec" stroke-width="0.5" stroke-linecap="butt"/>
<line x1="436.55" y1="291.20" x2="436.55" y2="349.40" stroke="#ececec" stroke-width="0.5" stroke-linecap="butt"/>
<line x1="459.60" y1="291.20" x2="459.60" y2="349.40" stroke="#ececec" stroke-width="0.5" stroke-linecap="butt"/>
<line x1="482.65" y1="291.20" x2="482.65" y2="349.40" stroke="#ececec" stroke-width="0.5" stroke-linecap="butt"/>
<line x1="505.70" y1="291.20" x2="505.70" y2="349.40" stroke="#ececec" stroke-width="0.5" stroke-linecap="butt"/>
<line x1="368.20" y1="299.30" x2="512.80" y2="299.30" stroke="#ececec" stroke-width="0.5" stroke-linecap="butt"/>
<line x1="368.20" y1="308.58" x2="512.80" y2="308.58" stroke="#ececec" stroke-width="0.5" stroke-linecap="butt"/>
<line x1="368.20" y1="317.86" x2="512.80" y2="317.86" stroke="#ececec" stroke-width="0.5" stroke-linecap="butt"/>
<line x1="368.20" y1="327.14" x2="512.80" y2="327.14" stroke="#ececec" stroke-width="0.5" stroke-linecap="butt"/>
<line x1="368.20" y1="336.42" x2="512.80" y2="336.42" stroke="#ececec" stroke-width="0.5" stroke-linecap="butt"/>
<line x1="368.20" y1="345.70" x2="512.80" y2="345.70" stroke="#d0d0d0" stroke-width="0.5" stroke-linecap="butt"/>
<line x1="368.20" y1="349.60" x2="512.80" y2="349.60" stroke="#d9d9d9" stroke-width="0.5" stroke-linecap="butt"/>
<rect x="369.50" y="350.20" width="1.30" height="19.60" fill="#111"/>
<rect x="371.35" y="350.20" width="1.30" height="19.60" fill="#111"/>
<rect x="373.04" y="350.20" width="1.30" height="19.60" fill="#333"/>
<rect x="374.89" y="350.20" width="1.30" height="19.60" fill="#444"/>
<rect x="376.89" y="350.20" width="1.30" height="19.60" fill="#111"/>
<rect x="378.73" y="350.20" width="1.30" height="19.60" fill="#333"/>
<rect x="380.58" y="350.20" width="1.30" height="19.60" fill="#111"/>
<rect x="382.22" y="350.20" width="1.10" height="19.60" fill="#777"/>
<rect x="383.66" y="350.20" width="1.30" height="19.60" fill="#111"/>
<rect x="385.30" y="350.20" width="1.10" height="19.60" fill="#888"/>
<rect x="386.83" y="350.20" width="1.10" height="19.60" fill="#bbb"/>
<rect x="388.83" y="350.20" width="1.10" height="19.60" fill="#888"/>
<rect x="390.83" y="350.20" width="1.10" height="19.60" fill="#bbb"/>
<rect x="392.68" y="350.20" width="1.10" height="19.60" fill="#888"/>
<rect x="394.22" y="350.20" width="1.10" height="19.60" fill="#bbb"/>
<rect x="396.43" y="350.20" width="1.30" height="19.60" fill="#222"/>
<rect x="398.43" y="350.20" width="1.30" height="19.60" fill="#333"/>
<rect x="400.37" y="350.20" width="1.10" height="19.60" fill="#888"/>
<rect x="402.12" y="350.20" width="1.30" height="19.60" fill="#333"/>
<rect x="403.91" y="350.20" width="1.10" height="19.60" fill="#888"/>
<rect x="405.66" y="350.20" width="1.30" height="19.60" fill="#333"/>
<rect x="407.60" y="350.20" width="1.10" height="19.60" fill="#888"/>
<rect x="409.30" y="350.20" width="1.10" height="19.60" fill="#999"/>
<rect x="411.04" y="350.20" width="1.30" height="19.60" fill="#444"/>
<rect x="412.99" y="350.20" width="1.10" height="19.60" fill="#666"/>
<rect x="414.99" y="350.20" width="1.10" height="19.60" fill="#999"/>
<rect x="417.50" y="350.20" width="1.30" height="19.60" fill="#333"/>
<rect x="419.04" y="350.20" width="1.30" height="19.60" fill="#111"/>
<rect x="420.58" y="350.20" width="1.30" height="19.60" fill="#333"/>
<rect x="426.83" y="350.20" width="1.10" height="19.60" fill="#999"/>
<rect x="433.45" y="350.20" width="1.10" height="19.60" fill="#bbb"/>
<rect x="434.99" y="350.20" width="1.10" height="19.60" fill="#999"/>
<rect x="437.73" y="350.20" width="1.15" height="19.60" fill="#999"/>
<rect x="442.35" y="350.20" width="1.15" height="19.60" fill="#bbb"/>
<rect x="444.17" y="350.20" width="1.50" height="19.60" fill="#777"/>
<rect x="445.71" y="350.20" width="1.50" height="19.60" fill="#888"/>
<rect x="447.25" y="350.20" width="1.50" height="19.60" fill="#777"/>
<rect x="448.79" y="350.20" width="1.50" height="19.60" fill="#888"/>
<rect x="452.04" y="350.20" width="1.15" height="19.60" fill="#999"/>
<rect x="453.89" y="350.20" width="1.15" height="19.60" fill="#ccc"/>
<rect x="455.73" y="350.20" width="1.15" height="19.60" fill="#444"/>
<rect x="456.96" y="350.20" width="1.15" height="19.60" fill="#999"/>
<rect x="460.81" y="350.20" width="1.15" height="19.60" fill="#ccc"/>
<rect x="467.43" y="350.20" width="1.15" height="19.60" fill="#999"/>
<rect x="468.96" y="350.20" width="1.15" height="19.60" fill="#999"/>
<rect x="475.12" y="350.20" width="1.15" height="19.60" fill="#666"/>
<rect x="476.66" y="350.20" width="1.15" height="19.60" fill="#999"/>
<rect x="480.04" y="350.20" width="1.15" height="19.60" fill="#ccc"/>
<rect x="483.12" y="350.20" width="1.15" height="19.60" fill="#aaa"/>
<rect x="487.73" y="350.20" width="1.15" height="19.60" fill="#ccc"/>
<rect x="490.81" y="350.20" width="1.15" height="19.60" fill="#ccc"/>
<rect x="495.43" y="350.20" width="1.15" height="19.60" fill="#aaa"/>
<rect x="496.96" y="350.20" width="1.15" height="19.60" fill="#ccc"/>
<rect x="499.27" y="350.20" width="1.15" height="19.60" fill="#aaa"/>
<rect x="368.20" y="369.80" width="28.90" height="4.40" fill="#e8343a"/>
<rect x="397.10" y="369.80" width="19.20" height="4.40" fill="#ef6a72"/>
<rect x="416.30" y="369.80" width="26.20" height="4.40" fill="#f4b0cc"/>
<rect x="442.50" y="369.80" width="27.70" height="4.40" fill="#cbc8ea"/>
<rect x="470.20" y="369.80" width="8.80" height="4.40" fill="#6f6cc2"/>
<rect x="479.00" y="369.80" width="23.00" height="4.40" fill="#4d4ab0"/>
<rect x="502.00" y="369.80" width="4.00" height="4.40" fill="#2c2a92"/>
<path d="M369.31 346.77 L369.62 343.38 L369.92 340.31 L370.38 336.46 L370.85 332.62 L371.15 329.23 L371.46 326.46 L371.92 325.54 L372.38 324.92 L373.00 322.77 L373.46 321.08 L373.92 319.85 L374.54 318.77 L375.00 318.00 L375.46 317.23 L375.77 314.92 L376.08 312.62 L376.54 309.23 L377.00 306.46 L377.46 305.54 L378.08 304.92 L378.54 304.00 L379.15 303.38 L379.77 302.15 L380.38 301.08 L381.15 299.38 L381.92 298.00 L382.69 296.92 L383.46 296.46 L384.54 295.85 L385.77 295.69 L386.85 296.15 L388.08 296.46 L389.31 296.62 L390.38 296.92 L391.46 297.38 L392.69 297.54 L393.92 297.23 L395.00 297.23 L395.77 297.85 L396.54 298.00 L397.00 296.77 L397.62 295.69 L398.38 294.77 L399.15 294.15 L400.08 293.69 L401.15 293.54 L402.23 293.85 L403.46 294.15 L404.38 294.15 L405.31 294.46 L406.23 294.92 L407.31 295.38 L408.38 295.85 L409.62 296.46 L410.85 296.92 L411.92 297.23 L413.00 297.69 L414.23 298.15 L415.46 298.31 L416.54 298.77 L417.62 299.38 L418.85 300.00 L420.38 300.77 L421.92 301.54 L423.46 302.46 L425.00 303.38 L426.54 304.31 L428.08 305.23 L429.62 306.15 L431.15 307.23 L432.69 308.15 L434.23 309.23 L435.77 310.31 L437.31 311.38 L438.85 312.31 L440.38 313.38 L441.92 314.46 L443.46 315.69 L445.00 316.62 L446.54 317.38 L447.31 318.46 L448.85 319.54 L450.38 320.62 L451.92 321.38 L453.46 322.15 L455.00 322.62 L456.54 323.38 L458.08 324.15 L459.62 324.92 L461.15 325.85 L462.69 326.77 L464.23 327.85 L465.77 328.77 L467.00 328.92 L468.08 329.23 L469.15 329.38 L470.38 329.85 L471.62 330.62 L472.69 331.38 L473.77 332.15 L474.69 332.62 L475.77 332.46 L476.85 332.62 L477.77 333.08 L478.85 333.54 L479.92 334.00 L481.15 334.46 L482.69 335.08 L484.23 335.69 L485.77 336.46 L487.31 337.23 L488.85 338.15 L490.38 339.08 L491.62 339.85 L492.69 340.62 L493.77 341.38 L495.00 341.85 L496.23 341.85 L497.31 342.15 L498.38 342.15 L499.62 342.46 L500.38 342.00 L501.15 342.15 L501.92 342.77 L502.69 343.38 L503.46 344.00 L504.23 344.62 L505.15 345.23 L506.08 345.69" fill="none" stroke="#4bb03c" stroke-width="1.35" stroke-linejoin="round"/>
<rect x="368.20" y="291.20" width="144.60" height="83.00" fill="none" stroke="#111" stroke-width="1.1"/>
<line x1="368.05" y1="290.65" x2="368.05" y2="374.75" stroke="#111" stroke-width="1.4" stroke-linecap="butt"/>
<line x1="364.60" y1="299.50" x2="367.70" y2="299.50" stroke="#111" stroke-width="1.1" stroke-linecap="butt"/>
<text transform="translate(362.30,299.50)" y="2.65" font-size="7.4" text-anchor="end" fill="#231f20" class="tk">0.5</text>
<line x1="364.60" y1="308.75" x2="367.70" y2="308.75" stroke="#111" stroke-width="1.1" stroke-linecap="butt"/>
<text transform="translate(362.30,308.75)" y="2.65" font-size="7.4" text-anchor="end" fill="#231f20" class="tk">0.4</text>
<line x1="364.60" y1="318.00" x2="367.70" y2="318.00" stroke="#111" stroke-width="1.1" stroke-linecap="butt"/>
<text transform="translate(362.30,318.00)" y="2.65" font-size="7.4" text-anchor="end" fill="#231f20" class="tk">0.3</text>
<line x1="364.60" y1="327.25" x2="367.70" y2="327.25" stroke="#111" stroke-width="1.1" stroke-linecap="butt"/>
<text transform="translate(362.30,327.25)" y="2.65" font-size="7.4" text-anchor="end" fill="#231f20" class="tk">0.2</text>
<line x1="364.60" y1="336.50" x2="367.70" y2="336.50" stroke="#111" stroke-width="1.1" stroke-linecap="butt"/>
<text transform="translate(362.30,336.50)" y="2.65" font-size="7.4" text-anchor="end" fill="#231f20" class="tk">0.1</text>
<line x1="364.60" y1="345.75" x2="367.70" y2="345.75" stroke="#111" stroke-width="1.1" stroke-linecap="butt"/>
<text transform="translate(362.30,345.75)" y="2.65" font-size="7.4" text-anchor="end" fill="#231f20" class="tk">0</text>
<text transform="translate(343.20,320.40) rotate(-90) scale(0.710,1)" y="3.22" font-size="9.0" text-anchor="middle" fill="#231f20" class="cond">Enrichment score (ES)</text>
<text transform="translate(376.50,331.70)" y="2.24" font-size="6.25" text-anchor="start" fill="#231f20">NES = 1.45</text>
<text transform="translate(376.50,338.70)" y="2.24" font-size="6.25" text-anchor="start" fill="#231f20"><tspan font-style="italic">P</tspan> = .0</text>
<text transform="translate(368.00,380.80)" y="2.11" font-size="5.9" text-anchor="start" fill="#231f20"><tspan font-style="italic">SIRT1</tspan> OE (positively correlated)</text>
</g>
<g id="panelD">
<text transform="translate(66.60,443.10)" y="2.83" font-size="7.9" text-anchor="start" fill="#231f20">KEGG_Oxidative phosphorylation</text>
<line x1="75.45" y1="451.20" x2="75.45" y2="509.20" stroke="#ececec" stroke-width="0.5" stroke-linecap="butt"/>
<line x1="99.00" y1="451.20" x2="99.00" y2="509.20" stroke="#ececec" stroke-width="0.5" stroke-linecap="butt"/>
<line x1="122.55" y1="451.20" x2="122.55" y2="509.20" stroke="#ececec" stroke-width="0.5" stroke-linecap="butt"/>
<line x1="146.10" y1="451.20" x2="146.10" y2="509.20" stroke="#ececec" stroke-width="0.5" stroke-linecap="butt"/>
<line x1="169.65" y1="451.20" x2="169.65" y2="509.20" stroke="#ececec" stroke-width="0.5" stroke-linecap="butt"/>
<line x1="193.20" y1="451.20" x2="193.20" y2="509.20" stroke="#ececec" stroke-width="0.5" stroke-linecap="butt"/>
<line x1="52.30" y1="461.13" x2="200.80" y2="461.13" stroke="#ececec" stroke-width="0.5" stroke-linecap="butt"/>
<line x1="52.30" y1="470.66" x2="200.80" y2="470.66" stroke="#ececec" stroke-width="0.5" stroke-linecap="butt"/>
<line x1="52.30" y1="480.19" x2="200.80" y2="480.19" stroke="#ececec" stroke-width="0.5" stroke-linecap="butt"/>
<line x1="52.30" y1="489.72" x2="200.80" y2="489.72" stroke="#ececec" stroke-width="0.5" stroke-linecap="butt"/>
<line x1="52.30" y1="499.25" x2="200.80" y2="499.25" stroke="#ececec" stroke-width="0.5" stroke-linecap="butt"/>
<line x1="52.30" y1="508.78" x2="200.80" y2="508.78" stroke="#ececec" stroke-width="0.5" stroke-linecap="butt"/>
<line x1="52.30" y1="451.60" x2="200.80" y2="451.60" stroke="#d0d0d0" stroke-width="0.5" stroke-linecap="butt"/>
<line x1="52.30" y1="509.40" x2="200.80" y2="509.40" stroke="#d9d9d9" stroke-width="0.5" stroke-linecap="butt"/>
<rect x="55.92" y="510.00" width="1.15" height="19.30" fill="#888"/>
<rect x="57.92" y="510.00" width="1.15" height="19.30" fill="#888"/>
<rect x="67.72" y="510.00" width="1.15" height="19.30" fill="#888"/>
<rect x="72.83" y="510.00" width="1.15" height="19.30" fill="#bbb"/>
<rect x="75.12" y="510.00" width="1.15" height="19.30" fill="#bbb"/>
<rect x="78.92" y="510.00" width="1.15" height="19.30" fill="#444"/>
<rect x="80.52" y="510.00" width="1.15" height="19.30" fill="#444"/>
<rect x="82.02" y="510.00" width="1.15" height="19.30" fill="#999"/>
<rect x="86.62" y="510.00" width="1.15" height="19.30" fill="#ccc"/>
<rect x="92.83" y="510.00" width="1.15" height="19.30" fill="#999"/>
<rect x="99.72" y="510.00" width="1.15" height="19.30" fill="#888"/>
<rect x="101.62" y="510.00" width="1.15" height="19.30" fill="#bbb"/>
<rect x="106.62" y="510.00" width="1.15" height="19.30" fill="#ccc"/>
<rect x="113.92" y="510.00" width="1.15" height="19.30" fill="#888"/>
<rect x="117.42" y="510.00" width="1.15" height="19.30" fill="#888"/>
<rect x="122.83" y="510.00" width="1.15" height="19.30" fill="#999"/>
<rect x="125.92" y="510.00" width="1.15" height="19.30" fill="#999"/>
<rect x="140.45" y="510.00" width="1.50" height="19.30" fill="#444"/>
<rect x="142.45" y="510.00" width="1.50" height="19.30" fill="#555"/>
<rect x="144.95" y="510.00" width="1.10" height="19.30" fill="#ccc"/>
<rect x="146.55" y="510.00" width="1.10" height="19.30" fill="#888"/>
<rect x="148.65" y="510.00" width="1.50" height="19.30" fill="#111"/>
<rect x="150.85" y="510.00" width="1.10" height="19.30" fill="#aaa"/>
<rect x="151.75" y="510.00" width="1.50" height="19.30" fill="#111"/>
<rect x="153.95" y="510.00" width="1.10" height="19.30" fill="#bbb"/>
<rect x="155.75" y="510.00" width="1.10" height="19.30" fill="#bbb"/>
<rect x="157.65" y="510.00" width="1.10" height="19.30" fill="#888"/>
<rect x="159.45" y="510.00" width="1.50" height="19.30" fill="#111"/>
<rect x="162.95" y="510.00" width="1.50" height="19.30" fill="#222"/>
<rect x="164.45" y="510.00" width="1.50" height="19.30" fill="#111"/>
<rect x="166.05" y="510.00" width="1.50" height="19.30" fill="#333"/>
<rect x="168.85" y="510.00" width="1.10" height="19.30" fill="#888"/>
<rect x="170.35" y="510.00" width="1.10" height="19.30" fill="#bbb"/>
<rect x="171.95" y="510.00" width="1.10" height="19.30" fill="#888"/>
<rect x="174.05" y="510.00" width="1.50" height="19.30" fill="#333"/>
<rect x="175.85" y="510.00" width="1.50" height="19.30" fill="#333"/>
<rect x="178.05" y="510.00" width="1.10" height="19.30" fill="#777"/>
<rect x="179.45" y="510.00" width="1.50" height="19.30" fill="#111"/>
<rect x="181.45" y="510.00" width="1.50" height="19.30" fill="#111"/>
<rect x="183.25" y="510.00" width="1.50" height="19.30" fill="#333"/>
<rect x="184.95" y="510.00" width="1.10" height="19.30" fill="#777"/>
<rect x="186.35" y="510.00" width="1.50" height="19.30" fill="#111"/>
<rect x="187.85" y="510.00" width="1.50" height="19.30" fill="#111"/>
<rect x="189.75" y="510.00" width="1.50" height="19.30" fill="#333"/>
<rect x="191.75" y="510.00" width="1.50" height="19.30" fill="#333"/>
<rect x="192.55" y="510.00" width="1.50" height="19.30" fill="#444"/>
<rect x="52.30" y="529.30" width="7.20" height="5.30" fill="#ea2a30"/>
<rect x="59.50" y="529.30" width="23.60" height="5.30" fill="#ee444a"/>
<rect x="83.10" y="529.30" width="15.70" height="5.30" fill="#f26a78"/>
<rect x="98.80" y="529.30" width="10.70" height="5.30" fill="#f48a94"/>
<rect x="109.50" y="529.30" width="23.00" height="5.30" fill="#f6b4d4"/>
<rect x="132.50" y="529.30" width="26.90" height="5.30" fill="#cbc8ea"/>
<rect x="159.40" y="529.30" width="7.60" height="5.30" fill="#6f6cc2"/>
<rect x="167.00" y="529.30" width="17.00" height="5.30" fill="#4d4ab0"/>
<rect x="184.00" y="529.30" width="9.60" height="5.30" fill="#2c2a92"/>
<path d="M53.85 453.38 L54.62 453.85 L55.38 454.15 L56.15 453.69 L56.92 453.85 L57.69 453.08 L58.46 452.31 L59.23 451.69 L60.00 451.38 L60.77 451.69 L61.54 452.31 L62.62 453.23 L63.85 454.15 L65.08 455.08 L66.15 456.00 L67.23 456.77 L68.46 457.23 L69.23 456.77 L70.00 456.46 L71.23 456.92 L72.31 457.23 L73.38 457.85 L74.62 458.46 L75.85 459.23 L76.92 460.00 L78.00 460.92 L79.23 461.54 L80.00 461.69 L80.77 461.54 L81.54 460.77 L82.31 460.31 L83.23 460.92 L84.15 461.54 L85.38 462.15 L86.92 463.08 L88.46 464.15 L90.00 465.23 L91.54 466.15 L93.08 467.23 L94.62 468.31 L96.15 469.23 L97.69 470.15 L99.23 471.08 L100.77 471.69 L102.31 472.31 L103.85 473.08 L105.38 473.85 L106.92 474.77 L108.46 475.69 L110.00 476.92 L111.54 478.00 L113.08 479.08 L114.62 480.00 L116.15 480.92 L117.69 481.85 L119.23 482.77 L120.77 483.69 L122.31 484.62 L123.85 485.54 L125.38 486.46 L126.92 487.38 L128.46 488.31 L130.00 489.23 L131.15 489.54 L132.69 490.77 L134.23 491.85 L135.77 493.08 L137.31 494.15 L138.85 495.23 L140.38 496.31 L141.92 497.23 L143.46 498.15 L145.00 498.92 L146.54 499.69 L148.08 500.46 L149.62 501.08 L151.15 501.38 L152.69 501.85 L154.23 502.46 L155.77 503.08 L157.31 503.54 L158.85 504.15 L160.08 504.15 L161.15 504.62 L161.92 505.23 L162.69 505.69 L163.77 505.85 L164.69 506.15 L165.46 506.00 L166.23 505.69 L166.85 505.08 L167.31 504.62 L168.08 503.85 L168.85 503.38 L169.62 503.54 L170.38 503.69 L171.15 504.00 L171.92 504.15 L172.69 503.38 L173.46 502.62 L174.23 502.77 L175.00 502.62 L175.77 502.31 L176.54 502.15 L177.31 501.69 L178.08 501.08 L178.69 500.00 L179.15 498.77 L179.62 497.23 L180.08 495.69 L180.69 494.46 L181.15 493.38 L181.77 492.62 L182.23 491.85 L182.85 490.31 L183.46 488.77 L184.08 487.54 L184.69 486.46 L185.31 485.23 L185.77 484.15 L186.38 482.92 L186.85 481.85 L187.46 480.31 L188.08 478.77 L188.69 477.54 L189.31 476.46 L189.62 474.46 L189.92 472.62 L190.38 470.31 L190.85 468.00 L191.31 465.69 L191.77 463.38 L192.08 460.62 L192.38 458.00 L192.69 456.31 L193.00 454.92 L193.46 452.92 L193.77 451.38" fill="none" stroke="#4bb03c" stroke-width="1.35" stroke-linejoin="round"/>
<rect x="52.30" y="451.20" width="148.50" height="83.40" fill="none" stroke="#111" stroke-width="1.1"/>
<line x1="52.15" y1="450.65" x2="52.15" y2="535.15" stroke="#111" stroke-width="1.4" stroke-linecap="butt"/>
<line x1="48.70" y1="451.60" x2="51.80" y2="451.60" stroke="#111" stroke-width="1.1" stroke-linecap="butt"/>
<text transform="translate(46.50,451.60)" y="2.65" font-size="7.4" text-anchor="end" fill="#231f20" class="tk">0</text>
<line x1="48.70" y1="461.10" x2="51.80" y2="461.10" stroke="#111" stroke-width="1.1" stroke-linecap="butt"/>
<text transform="translate(46.50,461.10)" y="2.65" font-size="7.4" text-anchor="end" fill="#231f20" class="tk">−0.1</text>
<line x1="48.70" y1="470.60" x2="51.80" y2="470.60" stroke="#111" stroke-width="1.1" stroke-linecap="butt"/>
<text transform="translate(46.50,470.60)" y="2.65" font-size="7.4" text-anchor="end" fill="#231f20" class="tk">−0.2</text>
<line x1="48.70" y1="480.10" x2="51.80" y2="480.10" stroke="#111" stroke-width="1.1" stroke-linecap="butt"/>
<text transform="translate(46.50,480.10)" y="2.65" font-size="7.4" text-anchor="end" fill="#231f20" class="tk">−0.3</text>
<line x1="48.70" y1="489.60" x2="51.80" y2="489.60" stroke="#111" stroke-width="1.1" stroke-linecap="butt"/>
<text transform="translate(46.50,489.60)" y="2.65" font-size="7.4" text-anchor="end" fill="#231f20" class="tk">−0.4</text>
<line x1="48.70" y1="499.10" x2="51.80" y2="499.10" stroke="#111" stroke-width="1.1" stroke-linecap="butt"/>
<text transform="translate(46.50,499.10)" y="2.65" font-size="7.4" text-anchor="end" fill="#231f20" class="tk">−0.5</text>
<line x1="48.70" y1="508.60" x2="51.80" y2="508.60" stroke="#111" stroke-width="1.1" stroke-linecap="butt"/>
<text transform="translate(46.50,508.60)" y="2.65" font-size="7.4" text-anchor="end" fill="#231f20" class="tk">−0.6</text>
<text transform="translate(22.90,480.90) rotate(-90) scale(0.710,1)" y="3.22" font-size="9.0" text-anchor="middle" fill="#231f20" class="cond">Enrichment score (ES)</text>
<text transform="translate(58.40,490.10)" y="2.24" font-size="6.25" text-anchor="start" fill="#231f20">NES = −1.43</text>
<text transform="translate(58.40,497.70)" y="2.24" font-size="6.25" text-anchor="start" fill="#231f20"><tspan font-style="italic">P</tspan> = .0</text>
<text transform="translate(52.90,540.40)" y="2.11" font-size="5.9" text-anchor="start" fill="#231f20">sg<tspan font-style="italic">SIRT1</tspan> (positively correlated)</text>
</g>
<g id="panelE">
<line x1="309.30" y1="435.00" x2="309.30" y2="535.50" stroke="#111" stroke-width="1.25" stroke-linecap="butt"/>
<line x1="308.70" y1="534.90" x2="424.60" y2="534.90" stroke="#111" stroke-width="1.25" stroke-linecap="butt"/>
<line x1="333.90" y1="534.90" x2="333.90" y2="538.10" stroke="#111" stroke-width="0.9" stroke-linecap="butt"/>
<line x1="366.30" y1="534.90" x2="366.30" y2="538.10" stroke="#111" stroke-width="0.9" stroke-linecap="butt"/>
<line x1="398.60" y1="534.90" x2="398.60" y2="538.10" stroke="#111" stroke-width="0.9" stroke-linecap="butt"/>
<line x1="306.20" y1="438.69" x2="309.30" y2="438.69" stroke="#111" stroke-width="1.0" stroke-linecap="butt"/>
<text transform="translate(303.60,438.99) scale(1.100,1)" y="2.69" font-size="7.5" text-anchor="end" fill="#231f20">3000</text>
<line x1="306.20" y1="470.76" x2="309.30" y2="470.76" stroke="#111" stroke-width="1.0" stroke-linecap="butt"/>
<text transform="translate(303.60,471.06) scale(1.100,1)" y="2.69" font-size="7.5" text-anchor="end" fill="#231f20">2000</text>
<line x1="306.20" y1="502.83" x2="309.30" y2="502.83" stroke="#111" stroke-width="1.0" stroke-linecap="butt"/>
<text transform="translate(303.60,503.13) scale(1.100,1)" y="2.69" font-size="7.5" text-anchor="end" fill="#231f20">1000</text>
<line x1="306.20" y1="534.90" x2="309.30" y2="534.90" stroke="#111" stroke-width="1.0" stroke-linecap="butt"/>
<text transform="translate(303.60,535.20) scale(1.100,1)" y="2.69" font-size="7.5" text-anchor="end" fill="#231f20">0</text>
<text transform="translate(276.00,486.90) rotate(-90) scale(0.795,1)" y="2.86" font-size="8.0" text-anchor="middle" fill="#231f20" class="cond">Membrane potential</text>
<rect x="326.20" y="466.70" width="15.50" height="67.70" fill="#c8102e"/>
<line x1="333.95" y1="466.70" x2="333.95" y2="465.10" stroke="#111" stroke-width="0.9" stroke-linecap="butt"/>
<line x1="330.05" y1="465.10" x2="337.85" y2="465.10" stroke="#111" stroke-width="0.95" stroke-linecap="butt"/>
<rect x="358.90" y="464.00" width="15.50" height="70.40" fill="#3cb54a"/>
<line x1="366.65" y1="464.00" x2="366.65" y2="462.20" stroke="#111" stroke-width="0.9" stroke-linecap="butt"/>
<line x1="362.75" y1="462.20" x2="370.55" y2="462.20" stroke="#111" stroke-width="0.95" stroke-linecap="butt"/>
<rect x="391.70" y="451.20" width="15.50" height="83.20" fill="#14508c"/>
<line x1="399.45" y1="451.20" x2="399.45" y2="449.10" stroke="#111" stroke-width="0.9" stroke-linecap="butt"/>
<line x1="395.55" y1="449.10" x2="403.35" y2="449.10" stroke="#111" stroke-width="0.95" stroke-linecap="butt"/>
<path d="M333.7 459.0V453.6H365.1V459.0" fill="none" stroke="#111" stroke-width="0.9" stroke-linejoin="miter"/>
<path d="M365.7 445.0V439.7H398.6V445.0" fill="none" stroke="#111" stroke-width="0.9" stroke-linejoin="miter"/>
<text transform="translate(350.00,450.70)" y="2.79" font-size="7.8" text-anchor="middle" fill="#231f20" class="ast">*</text>
<text transform="translate(381.80,436.80)" y="2.79" font-size="7.8" text-anchor="middle" fill="#231f20" class="ast">***</text>
<text transform="translate(334.20,543.60)" y="2.65" font-size="7.4" text-anchor="middle" fill="#231f20">sg<tspan font-style="italic">SIRT1</tspan></text>
<text transform="translate(366.20,543.60) scale(1.070,1)" y="2.65" font-size="7.4" text-anchor="middle" fill="#231f20">CON</text>
<text transform="translate(398.60,543.60) scale(1.070,1)" y="2.65" font-size="7.4" text-anchor="middle" fill="#231f20">OE</text>
</g>
<text transform="translate(6.80,11.00)" y="4.15" font-size="11.6" text-anchor="start" fill="#231f20" font-weight="bold" class="pl">A</text>
<text transform="translate(6.90,267.10)" y="4.15" font-size="11.6" text-anchor="start" fill="#231f20" font-weight="bold" class="pl">B</text>
<text transform="translate(339.80,267.30)" y="4.15" font-size="11.6" text-anchor="start" fill="#231f20" font-weight="bold" class="pl">C</text>
<text transform="translate(7.10,427.90)" y="4.15" font-size="11.6" text-anchor="start" fill="#231f20" font-weight="bold" class="pl">D</text>
<text transform="translate(260.10,427.70)" y="4.15" font-size="11.6" text-anchor="start" fill="#231f20" font-weight="bold" class="pl">E</text>
<rect x="0.5" y="0.5" width="519" height="553" fill="none" stroke="#000" stroke-width="1.2"/>
</svg>
</body></html>
